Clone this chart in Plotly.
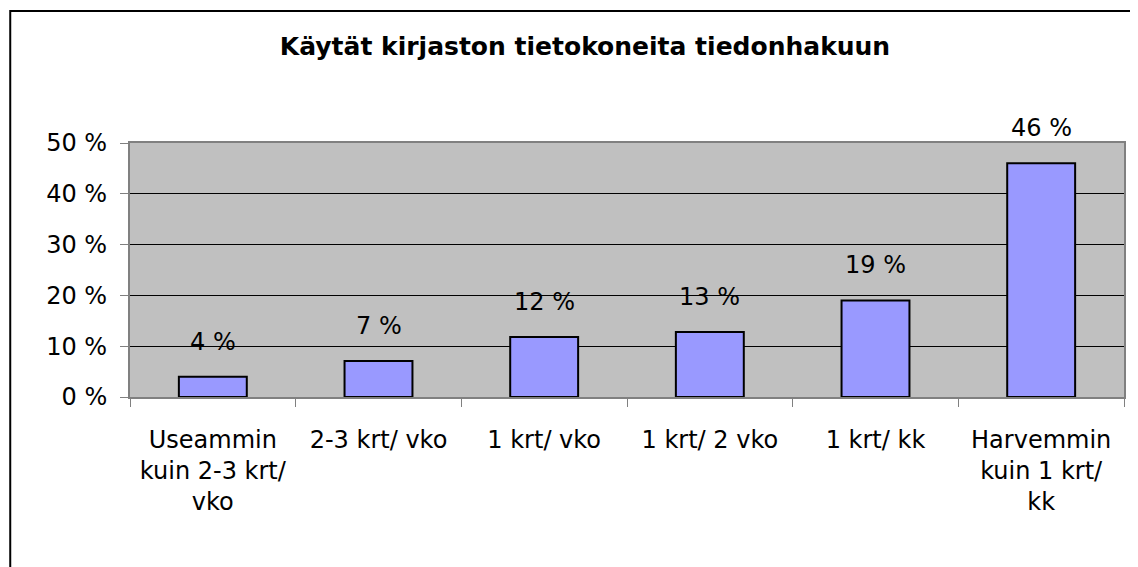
import plotly.graph_objects as go

categories = ["Useammin<br>kuin 2-3 krt/<br>vko", "2-3 krt/ vko", "1 krt/ vko",
              "1 krt/ 2 vko", "1 krt/ kk", "Harvemmin<br>kuin 1 krt/<br>kk"]
values = [4.0, 7.1, 11.8, 12.8, 19.0, 46.0]
y_ticks = [0, 10, 20, 30, 40, 50]
y_tick_labels = [f"{t} %" for t in y_ticks]
title_text = "Käytät kirjaston tietokoneita tiedonhakuun"

FONT = "DejaVu Sans"
OFF = 8  # default page body margin
W, H = 1138 - OFF, 567 - OFF
L, T = 130 - OFF, 143 - OFF
R = W - (1126 - OFF)
B = H - (397 - OFF)
pw, ph = W - L - R, H - T - B

fig = go.Figure()
fig.add_trace(go.Bar(
    x=categories, y=values,
    marker=dict(color="#9999FF", line=dict(color="black", width=2)),
    hoverinfo="skip",
))

for c, v in zip(categories, values):
    fig.add_annotation(x=c, y=v, text=f"{round(v)} %", showarrow=False,
                       yanchor="bottom", yshift=19,
                       font=dict(family=FONT, size=24, color="black"))

def px_x(p):
    return (p - OFF - L) / pw

def px_y(p):
    return (H - B - (p - OFF)) / ph

fig.add_shape(type="rect", xref="paper", yref="paper",
              x0=px_x(10), x1=px_x(1160), y0=px_y(11), y1=px_y(600),
              line=dict(color="black", width=2), fillcolor="rgba(0,0,0,0)", layer="above")

fig.update_layout(
    width=W, height=H,
    margin=dict(l=L, r=R, t=T, b=B),
    paper_bgcolor="white", plot_bgcolor="#C0C0C0",
    bargap=0.59,
    showlegend=False,
    title=dict(text=f"<b>{title_text}</b>", x=(585 - OFF) / W, xanchor="center",
               y=1 - (46 - OFF) / H, yanchor="middle",
               font=dict(family=FONT, size=25, color="black")),
    font=dict(family=FONT, size=24, color="black"),
)
fig.update_xaxes(
    showline=True, linecolor="#808080", linewidth=2, mirror=True,
    ticks="outside", tickson="boundaries", ticklen=8, tickcolor="#808080", tickwidth=1,
    ticklabelstandoff=20,
    tickfont=dict(family=FONT, size=24, color="black"),
    showgrid=False,
)
fig.update_yaxes(
    range=[0, 50], tickvals=y_ticks, ticktext=y_tick_labels,
    showline=True, linecolor="#808080", linewidth=2, mirror=True,
    ticks="outside", ticklen=8, tickcolor="#808080", tickwidth=1,
    showgrid=True, gridcolor="black", gridwidth=1,
    zeroline=True, zerolinecolor="black", zerolinewidth=1,
    ticklabelstandoff=8,
    tickfont=dict(family=FONT, size=24, color="black"),
)

fig.write_html("out.html")
